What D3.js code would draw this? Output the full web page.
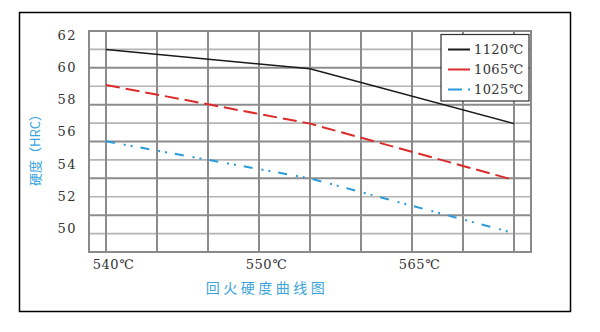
<!DOCTYPE html>
<html>
<head>
<meta charset="utf-8">
<script src="https://cdn.jsdelivr.net/npm/d3@7/dist/d3.min.js"></script>
<style>
  html, body { margin: 0; padding: 0; background: #fff; }
  svg { display: block; }
</style>
</head>
<body>
<svg id="chart" width="600" height="332"></svg>
<script>
// Tempering hardness (HRC) for three quenching temperatures
const xTickLabels = ["540℃", "550℃", "565℃"];
const xTickIndex = [0, 3, 6];
const pointIndex = [0, 4, 8];
const seriesNames = ["1120℃", "1065℃", "1025℃"];
const hrc1120 = [61.1, 59.9, 56.5];
const hrc1065 = [58.9, 56.5, 53.0];
const hrc1025 = [55.4, 53.1, 49.7];
const yTicks = [50, 52, 54, 56, 58, 60, 62];
const yTitle = "硬度（HRC）";
const xTitle = "回火硬度曲线图";

const serif = "'DejaVu Serif', 'Liberation Serif', serif";
const cjk = "'Noto Sans CJK SC', sans-serif";

const svg = d3.select("#chart");
const plot = { left: 89, right: 531, top: 31, bottom: 252 };

const x = d3.scaleLinear().domain([-1 / 3, 25 / 3]).range([plot.left, plot.right]);
const y = d3.scaleLinear().domain([48.53, 62.25]).range([plot.bottom, plot.top]);

// outer frame
svg.append("rect")
  .attr("x", 19.5).attr("y", 12.5).attr("width", 551).attr("height", 299)
  .attr("fill", "#fff").attr("stroke", "#000").attr("stroke-width", 1.5);

// horizontal grid: 12 equal bands across the plot
const g = svg.append("g");
const bands = 12;
d3.range(1, bands).forEach(i => {
  const yy = plot.top + i * (plot.bottom - plot.top) / bands;
  g.append("line")
    .attr("x1", plot.left).attr("x2", plot.right)
    .attr("y1", yy).attr("y2", yy)
    .attr("stroke", i % 2 === 0 ? "#8c8c8c" : "#b4b4b4")
    .attr("stroke-width", i % 2 === 0 ? 2 : 1.6);
});

// vertical grid at each column index
d3.range(0, 9).forEach(k => {
  g.append("line")
    .attr("x1", x(k)).attr("x2", x(k))
    .attr("y1", plot.top).attr("y2", plot.bottom)
    .attr("stroke", "#8c8c8c").attr("stroke-width", 2);
});

// plot border
g.append("rect")
  .attr("x", plot.left).attr("y", plot.top)
  .attr("width", plot.right - plot.left).attr("height", plot.bottom - plot.top)
  .attr("fill", "none").attr("stroke", "#8a8a8a").attr("stroke-width", 2);

// y axis labels
const yAxis = svg.append("g")
  .attr("transform", `translate(${plot.left},0)`)
  .call(d3.axisLeft(y).tickValues(yTicks).tickSize(0).tickPadding(12));
yAxis.select(".domain").remove();
yAxis.selectAll("text")
  .attr("font-family", serif).attr("font-size", 13)
  .attr("letter-spacing", 1.5).attr("fill", "#333");

// x axis labels
const xAxis = svg.append("g")
  .attr("transform", `translate(0,${plot.bottom})`)
  .call(d3.axisBottom(x).tickValues(xTickIndex)
    .tickFormat((d, i) => xTickLabels[i]).tickSize(0).tickPadding(8));
xAxis.select(".domain").remove();
xAxis.selectAll("text")
  .attr("font-family", serif).attr("font-size", 13)
  .attr("letter-spacing", 0.6).attr("dx", 7).attr("fill", "#333");

// titles
svg.append("text")
  .attr("transform", "translate(40,147) rotate(-90)")
  .attr("text-anchor", "middle")
  .attr("font-family", cjk).attr("font-size", 13)
  .attr("fill", "#3aa5dc")
  .text(yTitle);

svg.append("text")
  .attr("x", 267).attr("y", 293)
  .attr("text-anchor", "middle")
  .attr("font-family", cjk).attr("font-size", 14)
  .attr("letter-spacing", 3.5)
  .attr("fill", "#3aa5dc")
  .text(xTitle);

// series
const series = [
  { name: seriesNames[0], values: hrc1120, color: "#1a1a1a", dash: null, width: 1.5 },
  { name: seriesNames[1], values: hrc1065, color: "#dc2a2a", dash: "14,6", width: 2 },
  { name: seriesNames[2], values: hrc1025, color: "#2a9ad8", dash: "9,9,2,5,2,8", width: 2 }
];

const line = d3.line()
  .x((d, i) => x(pointIndex[i]))
  .y(d => y(d));

series.forEach(s => {
  svg.append("path")
    .datum(s.values)
    .attr("d", line)
    .attr("fill", "none")
    .attr("stroke", s.color)
    .attr("stroke-width", s.width)
    .attr("stroke-dasharray", s.dash);
});

// legend
const legend = svg.append("g").attr("transform", "translate(441,34.5)");
legend.append("rect")
  .attr("width", 88).attr("height", 66.5)
  .attr("fill", "#fff").attr("stroke", "#333").attr("stroke-width", 1.2);
const legendDash = [null, null, "14,6,2,10"];
series.forEach((s, i) => {
  const yy = 15 + i * 20;
  legend.append("line")
    .attr("x1", 7).attr("x2", 29).attr("y1", yy).attr("y2", yy)
    .attr("stroke", s.color).attr("stroke-width", 2)
    .attr("stroke-dasharray", legendDash[i]);
  legend.append("text")
    .attr("x", 33).attr("y", yy).attr("dy", "0.35em")
    .attr("font-family", serif).attr("font-size", 13)
    .attr("letter-spacing", 0.4).attr("fill", "#333")
    .text(s.name);
});
</script>
</body>
</html>
